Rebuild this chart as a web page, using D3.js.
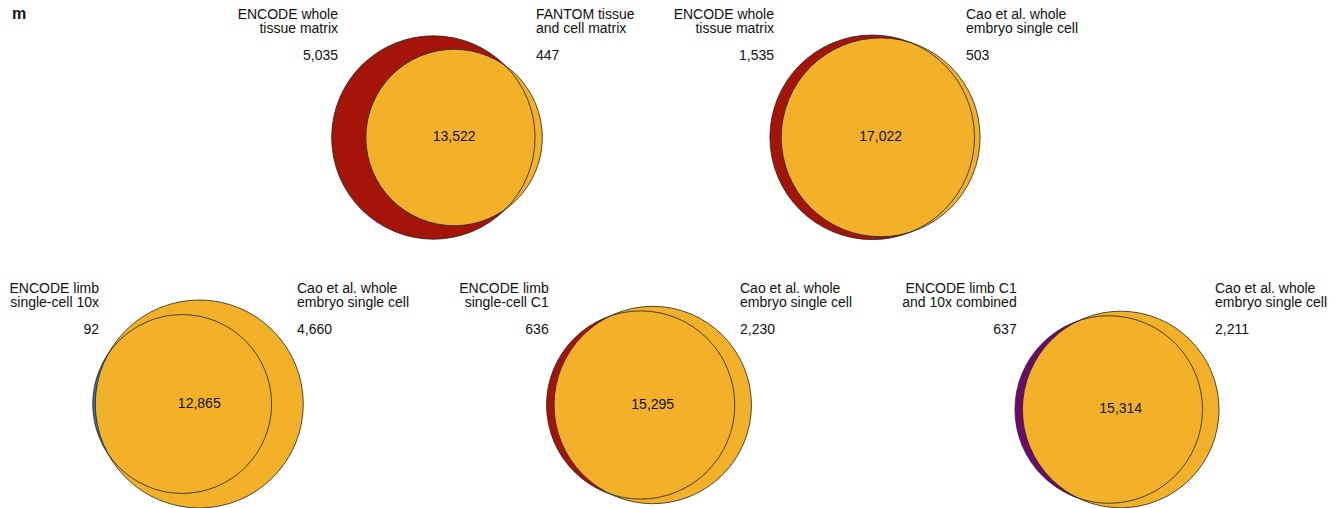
<!DOCTYPE html>
<html>
<head>
<meta charset="utf-8">
<script src="https://cdn.jsdelivr.net/npm/d3@7"></script>
<style>
  html, body { margin: 0; padding: 0; background: #fff; }
  svg { display: block; font-family: "Liberation Sans", Arial, Helvetica, sans-serif; }
</style>
</head>
<body>
<svg id="chart" width="1338" height="508"></svg>
<script>
// ---- data ----
const leftLabels = [
  ["ENCODE whole", "tissue matrix"],
  ["ENCODE whole", "tissue matrix"],
  ["ENCODE limb", "single-cell 10x"],
  ["ENCODE limb", "single-cell C1"],
  ["ENCODE limb C1", "and 10x combined"]
];
const rightLabels = [
  ["FANTOM tissue", "and cell matrix"],
  ["Cao et al. whole", "embryo single cell"],
  ["Cao et al. whole", "embryo single cell"],
  ["Cao et al. whole", "embryo single cell"],
  ["Cao et al. whole", "embryo single cell"]
];
const leftOnly  = [5035, 1535, 92, 636, 637];
const rightOnly = [447, 503, 4660, 2230, 2211];
const shared    = [13522, 17022, 12865, 15295, 15314];
const panelTag  = "m";

// ---- style / layout ----
const leftColors  = ["#A51409", "#A51409", "#3873AA", "#A51409", "#6E0A6E"];
const rightColor  = "#F2B128";
const panelCX   = [437, 875, 198, 649, 1117];     // centre of each diagram's bounding box
const panelCY   = [137.5, 137.3, 404, 405, 409.5];
const panelRmax = [101.7, 102.3, 104, 98.7, 98.3]; // radius of largest set
const labelLX   = [338, 774, 99, 548.7, 1016.7];  // right edge of left labels
const labelRX   = [536, 966, 297, 740, 1215];     // left edge of right labels
const rowBase   = [18.5, 18.5, 292.5, 292.5, 292.5];

const svg = d3.select("#chart");
const fmt = d3.format(",");

function lensArea(r1, r2, d) {
  if (d >= r1 + r2) return 0;
  if (d <= Math.abs(r1 - r2)) return Math.PI * Math.min(r1, r2) ** 2;
  const a1 = Math.acos((d*d + r1*r1 - r2*r2) / (2*d*r1));
  const a2 = Math.acos((d*d + r2*r2 - r1*r1) / (2*d*r2));
  const s = Math.sqrt((-d + r1 + r2) * (d + r1 - r2) * (d - r1 + r2) * (d + r1 + r2));
  return r1*r1*a1 + r2*r2*a2 - 0.5*s;
}
function solveDistance(r1, r2, target) {
  let lo = Math.abs(r1 - r2), hi = r1 + r2;
  for (let i = 0; i < 80; i++) {
    const mid = (lo + hi) / 2;
    if (lensArea(r1, r2, mid) > target) lo = mid; else hi = mid;
  }
  return (lo + hi) / 2;
}

// panel tag
svg.append("text").attr("x", 12).attr("y", 18.5)
  .attr("font-size", 16).attr("font-weight", "bold").attr("fill", "#111").text(panelTag);

leftOnly.forEach((_, i) => {
  const nL = leftOnly[i] + shared[i];
  const nR = rightOnly[i] + shared[i];
  const r = d3.scaleSqrt().domain([0, Math.max(nL, nR)]).range([0, panelRmax[i]]);
  const r1 = r(nL), r2 = r(nR);
  const k = panelRmax[i] / Math.sqrt(Math.max(nL, nR));
  const d = solveDistance(r1, r2, Math.PI * k * k * shared[i]);
  const x1 = panelCX[i] - (d + r2 - r1) / 2;
  const x2 = x1 + d;
  const cy = panelCY[i];

  const g = svg.append("g");
  const circles = [
    {x: x1, r: r1, fill: leftColors[i]},
    {x: x2, r: r2, fill: rightColor}
  ];
  g.selectAll("circle.fill").data(circles).join("circle")
    .attr("class", "fill").attr("cx", c => c.x).attr("cy", cy).attr("r", c => c.r)
    .attr("fill", c => c.fill).attr("stroke", "none");
  g.selectAll("circle.edge").data(circles).join("circle")
    .attr("class", "edge").attr("cx", c => c.x).attr("cy", cy).attr("r", c => c.r)
    .attr("fill", "none").attr("stroke", "#222").attr("stroke-width", 0.8);

  // intersection count
  g.append("text").attr("x", x2).attr("y", cy + 3.8)
    .attr("text-anchor", "middle").attr("font-size", 14).attr("fill", "#111")
    .text(fmt(shared[i]));

  const y0 = rowBase[i];
  // left labels
  const lt = g.append("text").attr("text-anchor", "end").attr("font-size", 14).attr("fill", "#111");
  leftLabels[i].forEach((s, j) => lt.append("tspan").attr("x", labelLX[i]).attr("y", y0 + j * 14.2).text(s));
  g.append("text").attr("x", labelLX[i]).attr("y", y0 + 41.8).attr("text-anchor", "end")
    .attr("font-size", 14).attr("fill", "#111").text(fmt(leftOnly[i]));
  // right labels
  const rt = g.append("text").attr("text-anchor", "start").attr("font-size", 14).attr("fill", "#111");
  rightLabels[i].forEach((s, j) => rt.append("tspan").attr("x", labelRX[i]).attr("y", y0 + j * 14.2).text(s));
  g.append("text").attr("x", labelRX[i]).attr("y", y0 + 41.8).attr("text-anchor", "start")
    .attr("font-size", 14).attr("fill", "#111").text(fmt(rightOnly[i]));
});
</script>
</body>
</html>
